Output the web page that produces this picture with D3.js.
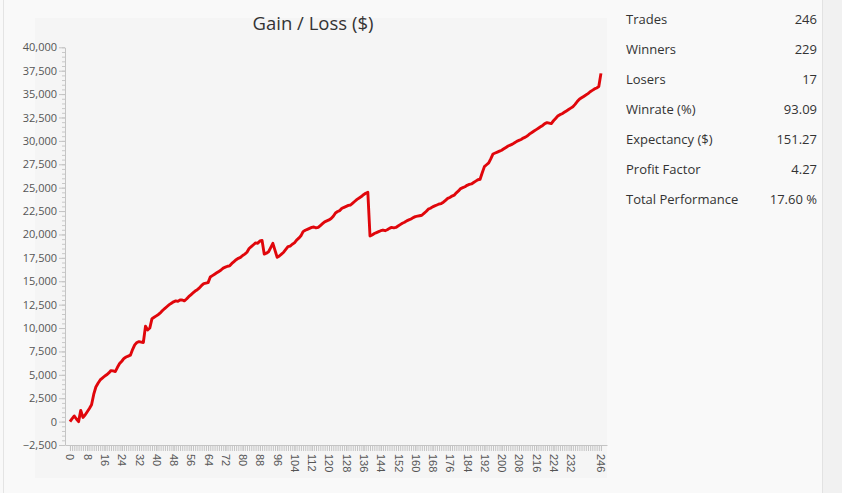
<!DOCTYPE html>
<html>
<head>
<meta charset="utf-8">
<script src="https://cdn.jsdelivr.net/npm/d3@7"></script>
<style>
  html, body { margin: 0; padding: 0; background: #f9f9f9; }
  svg { display: block; font-family: "Open Sans", "Noto Sans", sans-serif; }
</style>
</head>
<body>
<script>
// cumulative gain per trade
var equity = [
  0, 320, 600, 280, 0, 1200, 450, 700, 1050, 1400,
  1800, 2900, 3700, 4100, 4450, 4650, 4850, 5000, 5200, 5450,
  5420, 5350, 5800, 6200, 6450, 6750, 6900, 7000, 7100, 7700,
  8200, 8450, 8550, 8500, 8450, 10200, 9800, 10000, 11000, 11150,
  11300, 11450, 11650, 11900, 12100, 12300, 12500, 12650, 12800, 12900,
  12850, 13000, 13000, 12900, 13100, 13350, 13550, 13750, 13950, 14100,
  14300, 14550, 14750, 14800, 14850, 15450, 15600, 15750, 15900, 16050,
  16200, 16400, 16500, 16600, 16650, 16900, 17100, 17300, 17450, 17550,
  17750, 17900, 18100, 18500, 18700, 18900, 19100, 19050, 19300, 19350,
  17900, 18000, 18150, 18600, 19050, 18300, 17550, 17700, 17900, 18100,
  18400, 18700, 18750, 18950, 19100, 19400, 19600, 19850, 20300, 20450,
  20550, 20650, 20750, 20800, 20700, 20750, 20950, 21150, 21350, 21450,
  21550, 21700, 21950, 22300, 22450, 22550, 22800, 22900, 23000, 23100,
  23150, 23350, 23550, 23750, 23900, 24050, 24250, 24400, 24500, 19830,
  19950, 20100, 20200, 20300, 20400, 20470, 20400, 20500, 20650, 20750,
  20700, 20750, 20900, 21050, 21200, 21300, 21450, 21550, 21650, 21800,
  21900, 21950, 22000, 22050, 22250, 22450, 22700, 22800, 22950, 23050,
  23150, 23250, 23300, 23450, 23650, 23850, 23950, 24100, 24200, 24450,
  24650, 24900, 25000, 25100, 25250, 25350, 25400, 25550, 25700, 25850,
  25900, 26600, 27250, 27450, 27650, 28100, 28600, 28700, 28800, 28900,
  29000, 29150, 29300, 29450, 29550, 29650, 29800, 29950, 30050, 30150,
  30300, 30400, 30550, 30750, 30900, 31050, 31200, 31350, 31500, 31650,
  31850, 31950, 31900, 31850, 32150, 32400, 32650, 32800, 32900, 33050,
  33200, 33350, 33500, 33650, 33900, 34200, 34450, 34600, 34750, 34900,
  35050, 35250, 35400, 35550, 35650, 35800, 37212
];

var xTickLabels = [0, 8, 16, 24, 32, 40, 48, 56, 64, 72, 80, 88, 96, 104, 112, 120,
                   128, 136, 144, 152, 160, 168, 176, 184, 192, 200, 208, 216, 224, 232, 246];
var yTickValues = [-2500, 0, 2500, 5000, 7500, 10000, 12500, 15000, 17500, 20000,
                   22500, 25000, 27500, 30000, 32500, 35000, 37500, 40000];

var statNames = ["Trades", "Winners", "Losers", "Winrate (%)", "Expectancy ($)", "Profit Factor", "Total Performance"];
var statValues = ["246", "229", "17", "93.09", "151.27", "4.27", "17.60 %"];

var W = 842, H = 493;

var svg = d3.select("body").append("svg")
            .attr("width", W)
            .attr("height", H);

// window frame
svg.append("rect").attr("x", 0).attr("y", 0).attr("width", W).attr("height", H).attr("fill", "#f9f9f9");
svg.append("rect").attr("x", 822).attr("y", 0).attr("width", 20).attr("height", H).attr("fill", "#f1f1f1");
svg.append("line").attr("x1", 822.5).attr("x2", 822.5).attr("y1", 0).attr("y2", H).attr("stroke", "#e2e2e2");
svg.append("line").attr("x1", 3.5).attr("x2", 3.5).attr("y1", 0).attr("y2", H).attr("stroke", "#e4e4e4");

// chart panel
svg.append("rect").attr("x", 35).attr("y", 18).attr("width", 572).attr("height", 460).attr("fill", "#f5f5f5");

var x = d3.scaleLinear().domain([-2.3, 248.8]).range([65, 607]);
var y = d3.scaleLinear().domain([-2500, 40000]).range([445, 47.3]);

// title
svg.append("text")
   .attr("x", 313).attr("y", 30)
   .attr("text-anchor", "middle")
   .attr("fill", "#333")
   .style("font-size", "18.5px")
   .text("Gain / Loss ($)");

// y axis: minor ticks then major
var yMinor = d3.range(-2500, 40001, 500);
svg.append("g")
   .attr("transform", "translate(65,0)")
   .call(d3.axisLeft(y).tickValues(yMinor).tickSize(3).tickFormat(""))
   .call(function (g) {
       g.select(".domain").remove();
       g.selectAll("line").attr("stroke", "#c8c8c8");
   });

svg.append("g")
   .attr("class", "y axis")
   .attr("transform", "translate(65,0)")
   .call(d3.axisLeft(y).tickValues(yTickValues).tickSize(6).tickSizeOuter(0).tickPadding(2)
           .tickFormat(d3.format(",")))
   .call(function (g) {
       g.select(".domain").attr("stroke", "#c4c4c4");
       g.selectAll("line").attr("stroke", "#c4c4c4");
       g.selectAll("text").attr("fill", "#555").style("font-size", "11px")
        .style("font-family", "\"Open Sans\", sans-serif");
   });

// x axis: one tick per trade, labels on selected ones
svg.append("g")
   .attr("transform", "translate(0,445)")
   .call(d3.axisBottom(x).tickValues(d3.range(0, 247)).tickSize(6).tickFormat(""))
   .call(function (g) {
       g.select(".domain").remove();
       g.selectAll("line").attr("stroke", "#c4c4c4");
   });

svg.append("g")
   .attr("class", "x axis")
   .attr("transform", "translate(0,445)")
   .call(d3.axisBottom(x).tickValues(xTickLabels).tickSize(6).tickSizeOuter(0).tickFormat(d3.format("d")))
   .call(function (g) {
       g.select(".domain").attr("stroke", "#c4c4c4");
       g.selectAll("line").attr("stroke", "#c4c4c4");
       g.selectAll("text")
        .attr("fill", "#555")
        .style("font-size", "11px")
        .attr("text-anchor", "start")
        .attr("dy", null)
        .attr("y", 0)
        .attr("transform", "translate(-4,9) rotate(90)");
   });

// the equity line
var line = d3.line()
             .x(function (d, i) { return x(i); })
             .y(function (d) { return y(d); });

svg.append("path")
   .datum(equity)
   .attr("fill", "none")
   .attr("stroke", "#e0060b")
   .attr("stroke-width", 2.9)
   .attr("stroke-linejoin", "round")
   .attr("d", line);

// stats table
var stats = svg.append("g").attr("class", "stats");
stats.selectAll("text.name")
     .data(statNames)
     .enter().append("text")
     .attr("class", "name")
     .attr("x", 626)
     .attr("y", function (d, i) { return 24 + i * 30; })
     .attr("fill", "#333")
     .style("font-size", "13px")
     .text(function (d) { return d; });

stats.selectAll("text.value")
     .data(statValues)
     .enter().append("text")
     .attr("class", "value")
     .attr("x", 817)
     .attr("y", function (d, i) { return 24 + i * 30; })
     .attr("text-anchor", "end")
     .attr("fill", "#333")
     .style("font-size", "13px")
     .text(function (d) { return d; });
</script>
</body>
</html>
